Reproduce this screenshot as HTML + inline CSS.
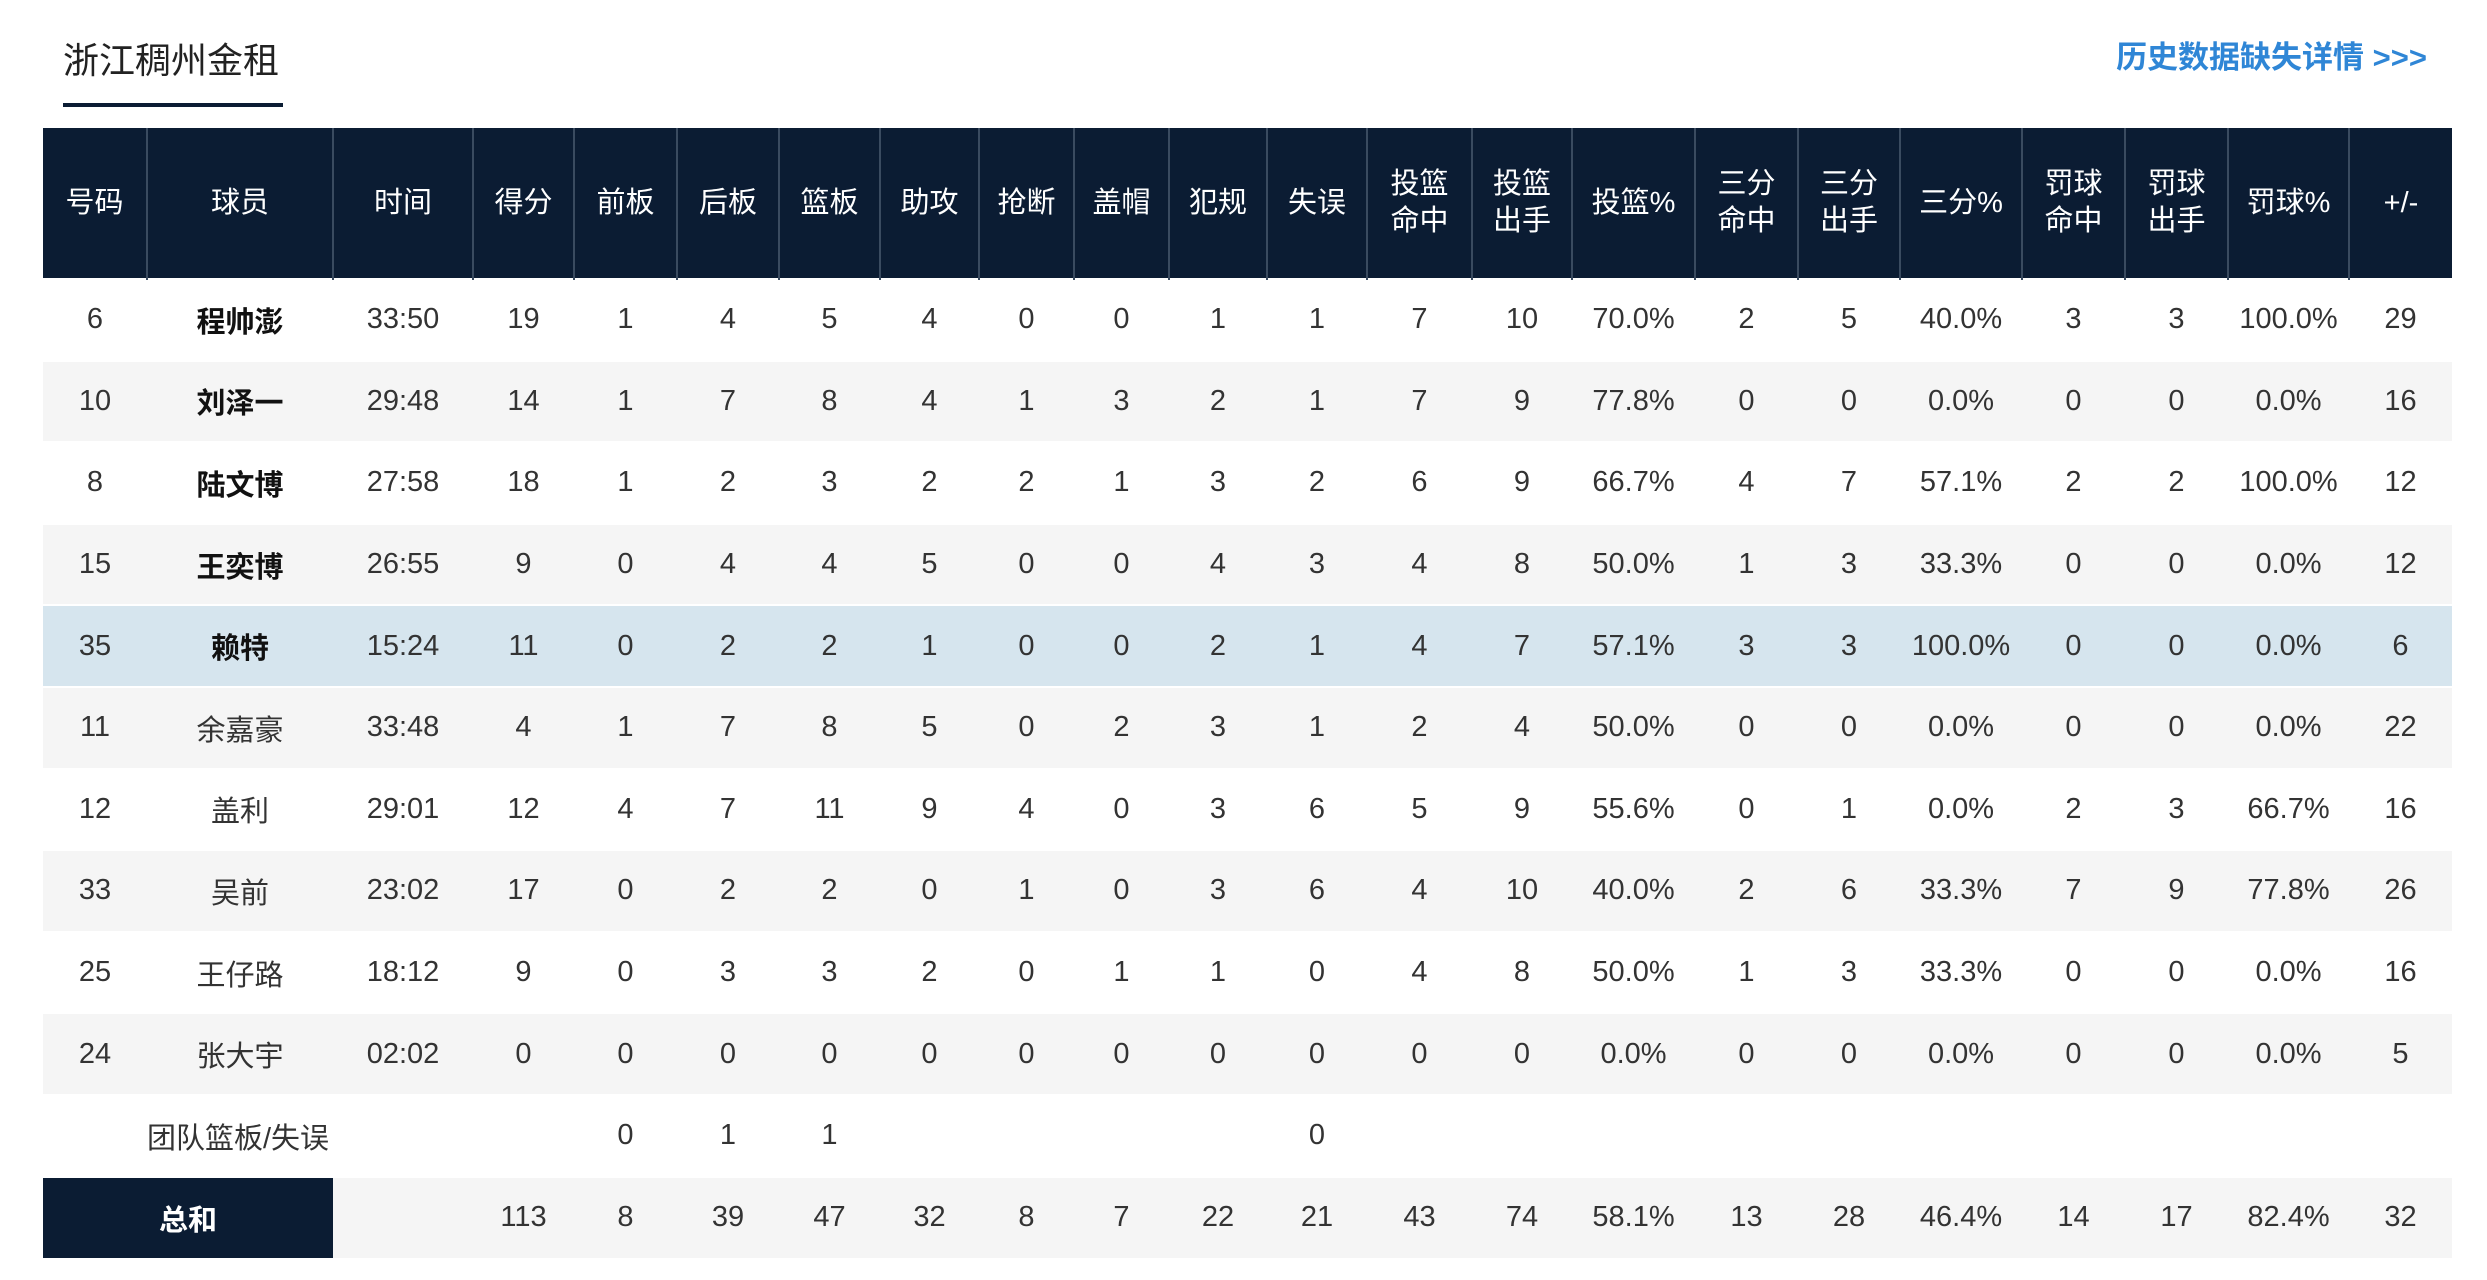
<!DOCTYPE html>
<html><head><meta charset="utf-8"><style>
*{margin:0;padding:0;box-sizing:border-box}
body{width:2487px;height:1280px;background:#fff;position:relative;overflow:hidden;font-family:"Liberation Sans","Noto Sans CJK SC",sans-serif;color:#333}
.title{position:absolute;left:63px;top:36px;font-size:36px;color:#222;line-height:50px}
.uline{position:absolute;left:63px;top:103px;width:220px;height:4px;background:#0b1c33}
.link{position:absolute;right:60px;top:36px;font-size:31px;color:#2f86d6;line-height:44px;font-weight:bold}
table{position:absolute;left:43px;top:128px;border-collapse:collapse;table-layout:fixed;width:2409px}
th{background:#0b1c33;color:#fff;font-weight:normal;font-size:29px;line-height:37px;height:151px;border-left:2px solid #3a4b60;text-align:center}
th:first-child{border-left:none}
td{height:81.6px;text-align:center;font-size:29px;color:#333;border-top:2px solid #fff}
tr.g td{background:#f5f5f5}
tr.h td{background:#d6e5ee}
td.b{font-weight:bold;color:#111}
td.tot{background:#0b1c33!important;color:#fff;font-weight:bold}
</style></head><body>
<div class="title">浙江稠州金租</div><div class="uline"></div>
<div class="link">历史数据缺失详情 &gt;&gt;&gt;</div>
<table>
<colgroup><col style="width:104px"><col style="width:186px"><col style="width:140px"><col style="width:101px"><col style="width:103px"><col style="width:102px"><col style="width:101px"><col style="width:99px"><col style="width:95px"><col style="width:95px"><col style="width:98px"><col style="width:100px"><col style="width:105px"><col style="width:100px"><col style="width:123px"><col style="width:103px"><col style="width:102px"><col style="width:122px"><col style="width:103px"><col style="width:103px"><col style="width:121px"><col style="width:103px"></colgroup>
<tr><th>号码</th><th>球员</th><th>时间</th><th>得分</th><th>前板</th><th>后板</th><th>篮板</th><th>助攻</th><th>抢断</th><th>盖帽</th><th>犯规</th><th>失误</th><th>投篮<br>命中</th><th>投篮<br>出手</th><th>投篮%</th><th>三分<br>命中</th><th>三分<br>出手</th><th>三分%</th><th>罚球<br>命中</th><th>罚球<br>出手</th><th>罚球%</th><th>+/-</th></tr>
<tr><td>6</td><td class="b">程帅澎</td><td>33:50</td><td>19</td><td>1</td><td>4</td><td>5</td><td>4</td><td>0</td><td>0</td><td>1</td><td>1</td><td>7</td><td>10</td><td>70.0%</td><td>2</td><td>5</td><td>40.0%</td><td>3</td><td>3</td><td>100.0%</td><td>29</td></tr>
<tr class="g"><td>10</td><td class="b">刘泽一</td><td>29:48</td><td>14</td><td>1</td><td>7</td><td>8</td><td>4</td><td>1</td><td>3</td><td>2</td><td>1</td><td>7</td><td>9</td><td>77.8%</td><td>0</td><td>0</td><td>0.0%</td><td>0</td><td>0</td><td>0.0%</td><td>16</td></tr>
<tr><td>8</td><td class="b">陆文博</td><td>27:58</td><td>18</td><td>1</td><td>2</td><td>3</td><td>2</td><td>2</td><td>1</td><td>3</td><td>2</td><td>6</td><td>9</td><td>66.7%</td><td>4</td><td>7</td><td>57.1%</td><td>2</td><td>2</td><td>100.0%</td><td>12</td></tr>
<tr class="g"><td>15</td><td class="b">王奕博</td><td>26:55</td><td>9</td><td>0</td><td>4</td><td>4</td><td>5</td><td>0</td><td>0</td><td>4</td><td>3</td><td>4</td><td>8</td><td>50.0%</td><td>1</td><td>3</td><td>33.3%</td><td>0</td><td>0</td><td>0.0%</td><td>12</td></tr>
<tr class="h"><td>35</td><td class="b">赖特</td><td>15:24</td><td>11</td><td>0</td><td>2</td><td>2</td><td>1</td><td>0</td><td>0</td><td>2</td><td>1</td><td>4</td><td>7</td><td>57.1%</td><td>3</td><td>3</td><td>100.0%</td><td>0</td><td>0</td><td>0.0%</td><td>6</td></tr>
<tr class="g"><td>11</td><td>余嘉豪</td><td>33:48</td><td>4</td><td>1</td><td>7</td><td>8</td><td>5</td><td>0</td><td>2</td><td>3</td><td>1</td><td>2</td><td>4</td><td>50.0%</td><td>0</td><td>0</td><td>0.0%</td><td>0</td><td>0</td><td>0.0%</td><td>22</td></tr>
<tr><td>12</td><td>盖利</td><td>29:01</td><td>12</td><td>4</td><td>7</td><td>11</td><td>9</td><td>4</td><td>0</td><td>3</td><td>6</td><td>5</td><td>9</td><td>55.6%</td><td>0</td><td>1</td><td>0.0%</td><td>2</td><td>3</td><td>66.7%</td><td>16</td></tr>
<tr class="g"><td>33</td><td>吴前</td><td>23:02</td><td>17</td><td>0</td><td>2</td><td>2</td><td>0</td><td>1</td><td>0</td><td>3</td><td>6</td><td>4</td><td>10</td><td>40.0%</td><td>2</td><td>6</td><td>33.3%</td><td>7</td><td>9</td><td>77.8%</td><td>26</td></tr>
<tr><td>25</td><td>王仔路</td><td>18:12</td><td>9</td><td>0</td><td>3</td><td>3</td><td>2</td><td>0</td><td>1</td><td>1</td><td>0</td><td>4</td><td>8</td><td>50.0%</td><td>1</td><td>3</td><td>33.3%</td><td>0</td><td>0</td><td>0.0%</td><td>16</td></tr>
<tr class="g"><td>24</td><td>张大宇</td><td>02:02</td><td>0</td><td>0</td><td>0</td><td>0</td><td>0</td><td>0</td><td>0</td><td>0</td><td>0</td><td>0</td><td>0</td><td>0.0%</td><td>0</td><td>0</td><td>0.0%</td><td>0</td><td>0</td><td>0.0%</td><td>5</td></tr>
<tr><td colspan="3" style="text-align:left;padding-left:104px">团队篮板/失误</td><td></td><td>0</td><td>1</td><td>1</td><td></td><td></td><td></td><td></td><td>0</td><td></td><td></td><td></td><td></td><td></td><td></td><td></td><td></td><td></td><td></td></tr>
<tr class="g"><td colspan="2" class="tot">总和</td><td></td><td>113</td><td>8</td><td>39</td><td>47</td><td>32</td><td>8</td><td>7</td><td>22</td><td>21</td><td>43</td><td>74</td><td>58.1%</td><td>13</td><td>28</td><td>46.4%</td><td>14</td><td>17</td><td>82.4%</td><td>32</td></tr>
</table>
</body></html>
